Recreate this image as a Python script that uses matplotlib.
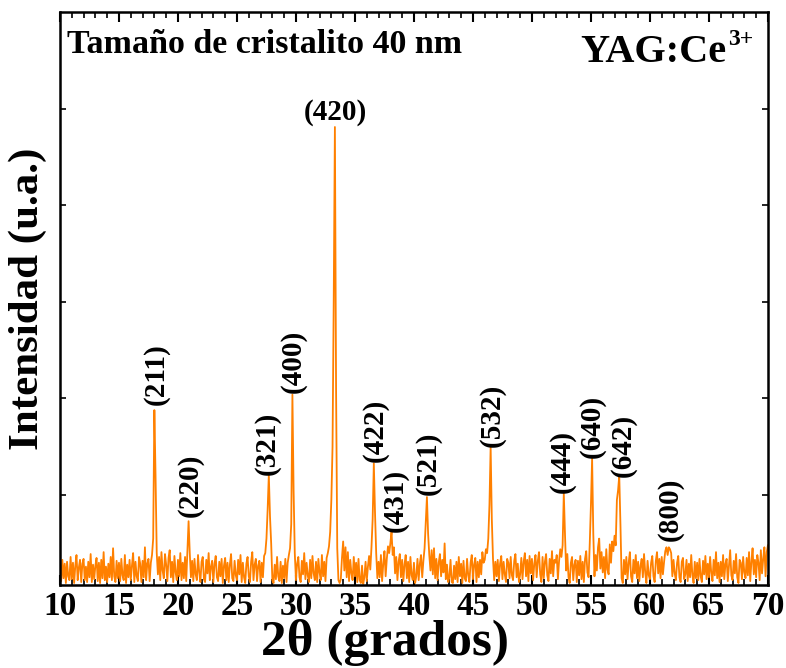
import numpy as np
import matplotlib
matplotlib.use("Agg")
import matplotlib.pyplot as plt
from matplotlib.ticker import MultipleLocator

plt.rcParams['font.family'] = ['Liberation Serif', 'DejaVu Serif']
plt.rcParams['font.weight'] = 'bold'

# 2theta grid, 0.1 deg step from 10 to 70
two_theta_start = 10.0
two_theta_step = 0.1

# intensity, one row per degree (x.0 ... x.9)
intensity = [
    24, 11, 33, 14, 29, 9, 31, 16, 12, 36,       # 10
    13, 30, 9, 27, 38, 12, 25, 33, 10, 29,       # 11
    34, 12, 26, 10, 31, 15, 39, 10, 28, 13,      # 12
    27, 35, 11, 30, 9, 33, 14, 41, 12, 26,       # 13
    10, 29, 15, 36, 12, 45, 16, 10, 32, 14,      # 14
    30, 11, 34, 17, 12, 38, 9, 28, 15, 33,       # 15
    12, 27, 40, 10, 31, 16, 11, 36, 29, 10,      # 16
    32, 15, 46, 12, 29, 34, 11, 30, 38, 55,      # 17
    188, 120, 40, 18, 36, 12, 41, 22, 14, 39,    # 18
    28, 11, 35, 43, 15, 31, 10, 37, 20, 12,      # 19
    33, 16, 40, 12, 30, 14, 36, 11, 42, 73,      # 20
    40, 15, 32, 11, 34, 18, 12, 38, 20, 10,      # 21
    31, 36, 13, 10, 33, 19, 40, 12, 26, 32,      # 22
    10, 29, 37, 15, 11, 31, 16, 34, 9, 27,       # 23
    35, 12, 30, 10, 28, 39, 14, 11, 32, 17,      # 24
    12, 33, 18, 38, 10, 30, 15, 9, 29, 36,       # 25
    16, 10, 31, 41, 12, 28, 34, 11, 27, 32,      # 26
    10, 30, 15, 37, 40, 55, 85, 121, 78, 50,     # 27
    12, 9, 28, 13, 36, 16, 11, 31, 9, 27,        # 28
    14, 34, 10, 30, 38, 45, 70, 204, 105, 40,    # 29
    12, 29, 36, 15, 10, 32, 18, 40, 13, 30,      # 30
    17, 10, 33, 14, 37, 19, 12, 31, 10, 34,      # 31
    20, 12, 38, 16, 31, 11, 35, 40, 47, 62,      # 32
    95, 150, 300, 481, 210, 45, 12, 9, 13, 35,   # 33
    52, 22, 46, 15, 41, 11, 33, 19, 12, 36,      # 34
    16, 30, 10, 34, 12, 9, 27, 8, 15, 31,        # 35
    11, 26, 37, 23, 46, 75, 133, 82, 40, 14,     # 36
    31, 15, 38, 11, 29, 42, 16, 34, 47, 40,      # 37
    50, 62, 38, 46, 19, 36, 12, 31, 39, 15,      # 38
    33, 11, 28, 38, 14, 31, 10, 36, 17, 12,      # 39
    30, 9, 16, 34, 12, 29, 38, 15, 32, 45,       # 40
    72, 98, 60, 38, 22, 43, 18, 45, 14, 34,      # 41
    12, 30, 39, 16, 33, 20, 50, 13, 28, 10,      # 42
    15, 33, 10, 9, 27, 13, 31, 10, 36, 16,       # 43
    29, 9, 32, 14, 11, 34, 17, 10, 30, 38,       # 44
    13, 28, 35, 10, 31, 15, 33, 18, 41, 30,      # 45
    33, 44, 40, 55, 90, 150, 75, 34, 12, 31,     # 46
    16, 33, 11, 29, 37, 13, 31, 18, 10, 34,      # 47
    30, 14, 36, 17, 12, 32, 39, 15, 29, 10,      # 48
    18, 35, 13, 31, 40, 16, 33, 11, 37, 19,      # 49
    34, 12, 29, 38, 15, 32, 41, 18, 10, 36,      # 50
    14, 31, 39, 17, 11, 34, 19, 42, 16, 33,      # 51
    30, 38, 13, 32, 44, 36, 48, 102, 60, 22,     # 52
    39, 15, 9, 30, 36, 12, 28, 33, 10, 32,       # 53
    17, 37, 13, 31, 10, 34, 42, 20, 15, 50,      # 54
    90, 138, 60, 16, 38, 22, 46, 55, 24, 41,     # 55
    20, 36, 14, 44, 23, 18, 49, 30, 52, 42,      # 56
    58, 48, 95, 105, 120, 70, 14, 9, 33, 18,     # 57
    36, 13, 30, 41, 16, 10, 33, 19, 38, 14,      # 58
    31, 11, 27, 34, 15, 39, 20, 9, 32, 17,       # 59
    13, 30, 37, 16, 10, 32, 41, 19, 34, 14,      # 60
    36, 18, 31, 42, 46, 38, 46, 44, 40, 16,      # 61
    33, 19, 12, 30, 37, 15, 10, 31, 35, 13,      # 62
    18, 33, 11, 29, 15, 38, 17, 9, 31, 14,       # 63
    30, 12, 34, 16, 10, 32, 18, 37, 13, 29,      # 64
    15, 36, 19, 11, 33, 17, 41, 14, 30, 10,      # 65
    31, 16, 38, 13, 29, 34, 11, 27, 43, 17,      # 66
    12, 32, 19, 39, 15, 9, 33, 30, 13, 36,       # 67
    20, 14, 35, 17, 41, 11, 31, 45, 18, 33,      # 68
    15, 38, 30, 12, 43, 19, 34, 46, 16, 41,      # 69
    48,                                          # 70
]

# Miller indices and where their labels sit (2theta, intensity of label base)
peak_labels = ['(211)', '(220)', '(321)', '(400)', '(420)', '(422)', '(431)',
               '(521)', '(532)', '(444)', '(640)', '(642)', '(800)']
label_x = [18.2, 21.0, 27.6, 29.75, 33.35, 36.7, 38.4, 41.2, 46.6, 52.6, 55.1, 57.7, 61.7]
label_y = [193, 77, 121, 206, 482, 134, 62, 100, 150, 102, 138, 119, 53]

x = two_theta_start + two_theta_step * np.arange(len(intensity))
y = np.array(intensity)

fig = plt.figure(figsize=(7.86, 6.68), dpi=100)
ax = fig.add_axes([0.0763, 0.1243, 0.9007, 0.8577])

ax.plot(x, y, color='#FF8000', lw=1.3)

for lab, lx, ly in zip(peak_labels, label_x, label_y):
    if lab == '(420)':
        ax.text(lx, ly, lab, ha='center', va='bottom', fontsize=21, fontweight='bold')
    else:
        ax.text(lx, ly, lab, ha='center', va='bottom', rotation=90, fontsize=21,
                fontweight='bold')

ax.text(0.01, 0.928, 'Tamaño de cristalito 40 nm', transform=ax.transAxes,
        fontsize=24.5, fontweight='bold', va='baseline', ha='left')
# YAG:Ce with the 3+ drawn as a separate raised text
ax.text(0.942, 0.913, 'YAG:Ce', transform=ax.transAxes,
        fontsize=29, fontweight='bold', va='baseline', ha='right')
ax.text(0.943, 0.942, '3+', transform=ax.transAxes,
        fontsize=17, fontweight='bold', va='baseline', ha='left')

ax.set_xlim(10, 70)
ax.set_ylim(7, 600)
ax.xaxis.set_major_locator(MultipleLocator(5))
ax.xaxis.set_minor_locator(MultipleLocator(1))
ax.set_yticks([100, 200, 300, 400, 500])
ax.set_yticklabels([])
ax.tick_params(axis='x', which='major', direction='in', length=7, width=1.5,
               top=True, labelsize=24, pad=4)
ax.tick_params(axis='x', which='minor', direction='in', length=4, width=1.2, top=True)
ax.tick_params(axis='y', which='major', direction='in', length=4, width=1.2, right=True)
for lab in ax.get_xticklabels():
    lab.set_fontweight('bold')
for sp in ax.spines.values():
    sp.set_linewidth(1.8)

ax.text(0.459, -0.122, '2θ (grados)', transform=ax.transAxes,
        fontsize=37, fontweight='bold', va='baseline', ha='center')
ax.set_ylabel('Intensidad (u.a.)', fontsize=31, fontweight='bold', labelpad=6)

fig.savefig('out.png', dpi=100)
